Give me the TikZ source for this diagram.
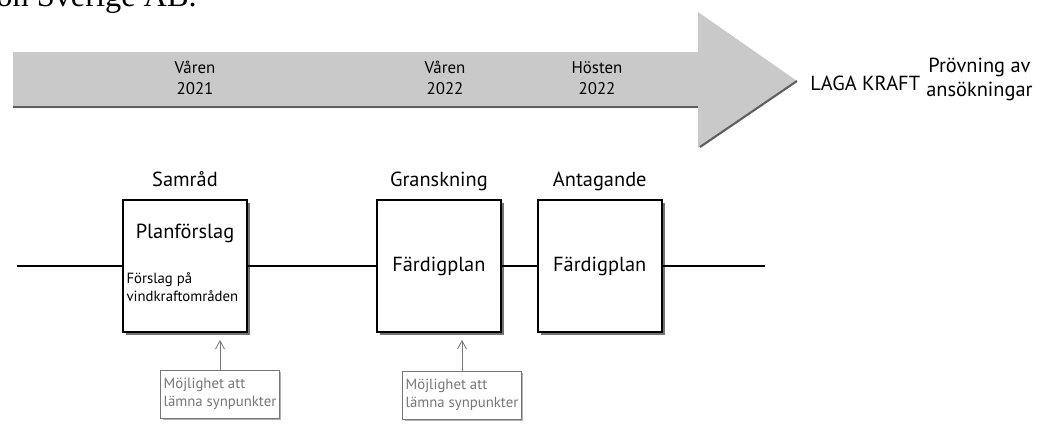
\documentclass[tikz,border=0pt]{standalone}
\usepackage{fontspec}
\setmainfont{PT Sans}
\newfontfamily\bodyserif{Liberation Serif}
\usepackage{tikz}
\usetikzlibrary{arrows.meta,positioning}
\definecolor{bandfill}{RGB}{201,201,201}
\definecolor{bandedge}{RGB}{95,95,95}
\definecolor{notegray}{RGB}{118,118,118}

\begin{document}
\begin{tikzpicture}[
  x=0.025cm, y=-0.025cm,
  node distance=9pt and 3.2cm,
  phase/.style={draw,line width=1.3pt,fill=white,minimum width=3.1cm,minimum height=3.3cm,inner sep=0pt,font=\fontsize{14.5}{17}\selectfont,
    preaction={fill=black!55,transform canvas={shift={(2.2pt,-2.2pt)}}}},
  head/.style={font=\fontsize{14.5}{17}\selectfont,inner sep=0pt,text depth=0pt},
  when/.style={align=center,font=\fontsize{12}{15}\selectfont,inner sep=0pt},
  small/.style={align=left,font=\fontsize{10.5}{13}\selectfont,inner sep=0pt},
  note/.style={draw=notegray,line width=0.6pt,fill=white,text=notegray,align=left,font=\fontsize{10.5}{13}\selectfont,inner sep=2pt,minimum height=1.2cm,
    preaction={fill=black!30,transform canvas={shift={(1.3pt,-1.3pt)}}}},
  tl/.style={line width=2pt},
  ar/.style={draw=notegray,line width=0.6pt,-{Straight Barb[length=2mm,width=2.2mm]},shorten >=5pt}
]
\useasboundingbox (0,0) rectangle (1052,423);
% text line cut by the page
\node[font=\bodyserif\fontsize{23}{28}\selectfont,anchor=base east,inner sep=0pt] (bodytxt) at (197,6) {on Sverige AB.};
% time band
\fill[bandfill] (13,52) -- (698,52) -- (698,12) -- (797,81) -- (698,148) -- (698,108) -- (13,108) -- cycle;
\draw[bandedge,line width=2pt] (13,107) -- (698,107);
\draw[bandedge,line width=1.5pt] (700,147) -- (797,81);
\node[when] (v21) at (195,78) {Våren\\2021};
\node[when] (v22) at (445,78) {Våren\\2022};
\node[when] (h22) at (597,78) {Hösten\\2022};
\node[head,anchor=west] (laga) at (810,83) {LAGA KRAFT};
\node[align=center,anchor=west,font=\fontsize{14.5}{17}\selectfont,inner sep=0pt] (prov) at (926,79) {Prövning av\\ansökningar};
% phases
\node[phase] (plan) at (185,266) {};
\node[phase,right=of plan] (gransk) {Färdigplan};
\node[phase,right=0.875cm of gransk] (antag) {Färdigplan};
\node[head,above=of plan] (samrad) {Samråd};
\node[head,above=of gransk] (granskh) {Granskning};
\node[head,above=of antag] (antagh) {Antagande};
\node[head] (plantxt) at ([yshift=-22.8pt]plan.north) {Planförslag};
\node[small,anchor=west] (vindtxt) at ([xshift=3pt,yshift=-15pt]plan.west) {Förslag på\\vindkraftområden};
% timeline
\coordinate (tlstart) at (17,266);
\coordinate (tlend) at (765,266);
\draw[tl] (tlstart) -- (plan.west);
\draw[tl] (plan.east) -- (gransk.west);
\draw[tl] (gransk.east) -- (antag.west);
\draw[tl] (antag.east) -- (tlend);
% notes
\node[note] (note1) at (220,394) {Möjlighet att\\lämna synpunkter};
\node[note] (note2) at (462,395) {Möjlighet att\\lämna synpunkter};
\draw[ar] (note1.north) -- (note1.north |- plan.south);
\draw[ar] (note2.north) -- (note2.north |- gransk.south);
\end{tikzpicture}
\end{document}
